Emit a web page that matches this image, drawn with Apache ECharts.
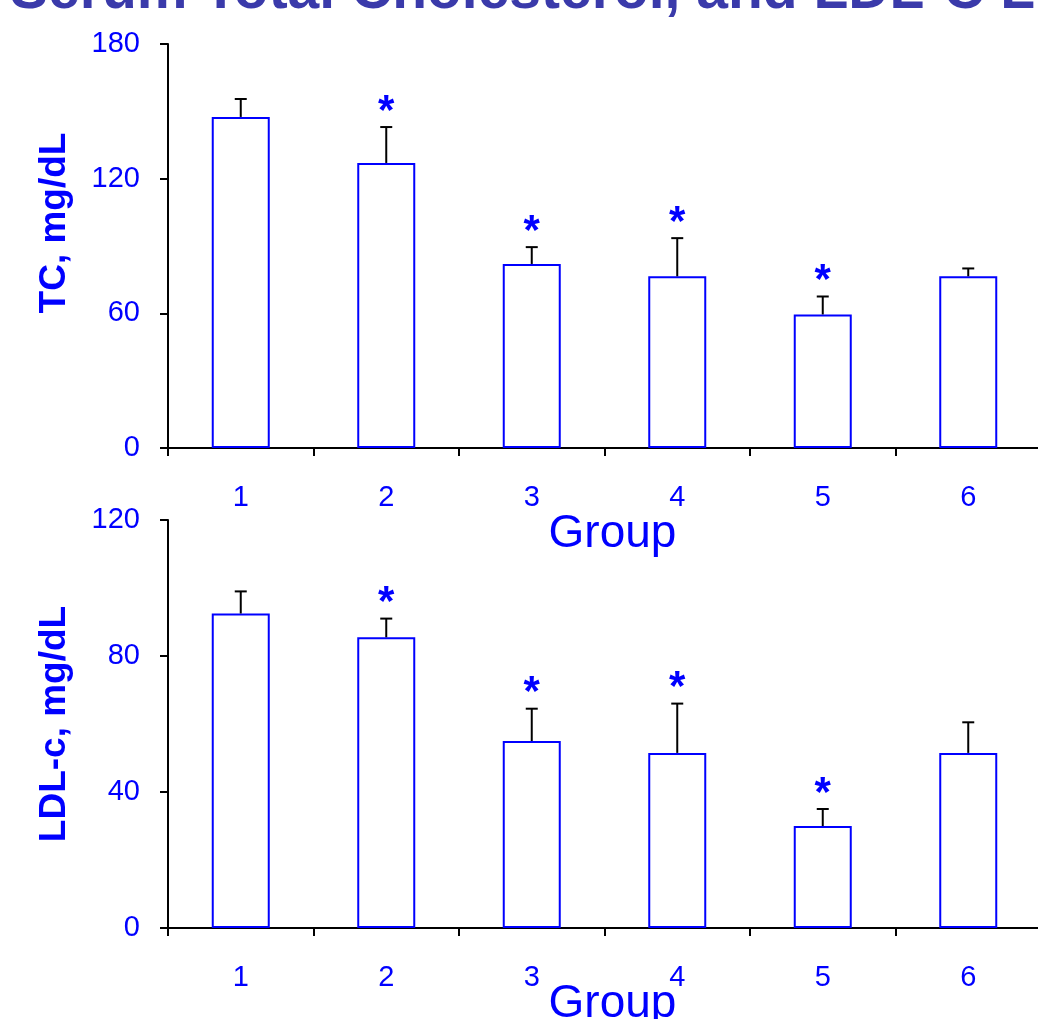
<!DOCTYPE html>
<html>
<head>
<meta charset="utf-8">
<script src="https://cdn.jsdelivr.net/npm/echarts@6/dist/echarts.min.js"></script>
<style>
html,body{margin:0;padding:0;background:#fff;}
#c{width:1038px;height:1019px;}
</style>
</head>
<body>
<div id="c"></div>
<script>
// ---- data ----
const groups = ['1', '2', '3', '4', '5', '6'];
const tcMean = [147.5, 127, 82, 76.5, 59.5, 76.5];
const tcErr  = [8, 16, 7.5, 17, 8, 3.5];
const tcSig  = [false, true, true, true, true, false];
const ldlMean = [92.5, 85.5, 55, 51.5, 30, 51.5];
const ldlErr  = [6.5, 5.5, 9.5, 14.5, 5, 9];
const ldlSig  = [false, true, true, true, true, false];
const tcTicks = [0, 60, 120, 180];
const ldlTicks = [0, 40, 80, 120];

const BLUE = '#0000ff';
const FONT = 'Liberation Sans, Arial, sans-serif';

function errSeries(mean, err, sig, idx) {
  const data = mean.map((m, i) => [i, m, m + err[i], sig[i] ? 1 : 0]);
  return {
    type: 'custom',
    xAxisIndex: idx, yAxisIndex: idx,
    z: 5,
    data: data,
    renderItem: function (params, api) {
      const x = api.value(0);
      const base = api.coord([x, api.value(1)]);
      const top = api.coord([x, api.value(2)]);
      const children = [
        { type: 'line', shape: { x1: base[0], y1: base[1], x2: top[0], y2: top[1] },
          style: { stroke: '#000', lineWidth: 2 } },
        { type: 'line', shape: { x1: top[0] - 6, y1: top[1], x2: top[0] + 6, y2: top[1] },
          style: { stroke: '#000', lineWidth: 2 } }
      ];
      if (api.value(3)) {
        children.push({ type: 'text', x: top[0], y: top[1] + 6,
          style: { text: '*', fill: BLUE, font: 'bold 42px ' + FONT, align: 'center', verticalAlign: 'bottom' } });
      }
      return { type: 'group', children: children };
    }
  };
}

function barSeries(mean, idx) {
  return {
    type: 'bar', xAxisIndex: idx, yAxisIndex: idx,
    data: mean, barWidth: 58,
    itemStyle: { color: '#fff', borderColor: BLUE, borderWidth: 2 }
  };
}

function xAx(idx, gap) {
  return {
    type: 'category', gridIndex: idx, data: groups,
    axisLine: { lineStyle: { color: '#000', width: 2 } },
    axisTick: { show: true, length: 8, lineStyle: { color: '#000', width: 2 } },
    axisLabel: { color: BLUE, fontSize: 29, fontFamily: FONT, margin: 35 },
    name: 'Group', nameLocation: 'middle', nameGap: gap, nameMoveOverlap: false,
    nameTextStyle: { color: BLUE, fontSize: 46, fontFamily: FONT, padding: [0, 0, 0, 16] }
  };
}

function yAx(idx, name, ticks, gap, pad) {
  return {
    type: 'value', gridIndex: idx,
    min: ticks[0], max: ticks[ticks.length - 1], interval: ticks[1] - ticks[0],
    axisLine: { show: true, lineStyle: { color: '#000', width: 2 } },
    axisTick: { show: true, length: 8, lineStyle: { color: '#000', width: 2 } },
    splitLine: { show: false },
    axisLabel: { color: BLUE, fontSize: 29, fontFamily: FONT, margin: 28 },
    name: name, nameLocation: 'middle', nameGap: gap, nameMoveOverlap: false,
    nameTextStyle: { color: BLUE, fontSize: 37, fontWeight: 'bold', fontFamily: FONT, padding: pad }
  };
}

const chart = echarts.init(document.getElementById('c'), null, { renderer: 'canvas' });
chart.setOption({
  animation: false,
  backgroundColor: '#fff',
  graphic: [{
    type: 'text', left: 10, top: -36,
    style: { text: 'Serum Total Cholesterol, and LDL-C Levels', fill: '#3a3aaa',
      font: 'bold 57px ' + FONT }
  }],
  grid: [
    { left: 168, top: 44, width: 873, height: 404, outerBoundsMode: 'none', containLabel: false },
    { left: 168, top: 520, width: 873, height: 408, outerBoundsMode: 'none', containLabel: false }
  ],
  xAxis: [xAx(0, 63), xAx(1, 53)],
  yAxis: [yAx(0, 'TC, mg/dL', tcTicks, 95, [0, 0, 0, 46]), yAx(1, 'LDL-c, mg/dL', ldlTicks, 95, 0)],
  series: [
    barSeries(tcMean, 0), errSeries(tcMean, tcErr, tcSig, 0),
    barSeries(ldlMean, 1), errSeries(ldlMean, ldlErr, ldlSig, 1)
  ]
});
</script>
</body>
</html>
